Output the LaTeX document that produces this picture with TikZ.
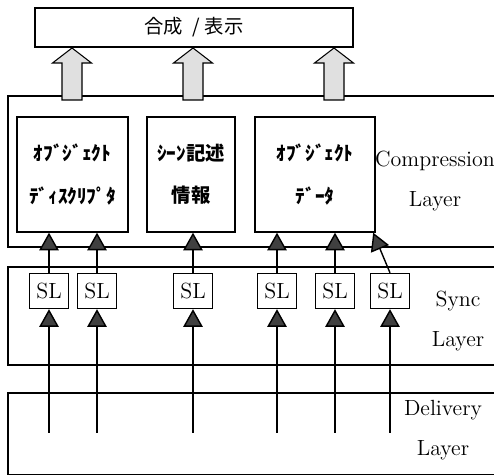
\documentclass[tikz,border=0pt]{standalone}
\usepackage{fontspec}
\newfontfamily\jpfont{Noto Sans CJK JP}
\usetikzlibrary{arrows.meta}

\begin{document}
\begin{tikzpicture}[x=0.02cm, y=-0.02cm,
    line width=0.8pt,
    box/.style={draw, inner sep=0pt, align=center},
    jptext/.style={font=\jpfont\bfseries\fontsize{11}{24}\selectfont},
    slbox/.style={box, minimum width=0.78cm, minimum height=0.7cm,
                  font=\fontsize{12.5}{14}\selectfont},
    layertext/.style={align=center, inner sep=0pt,
                      font=\fontsize{12.5}{23}\selectfont},
    upstream/.style={-{Triangle[width=11pt,length=10pt,fill=black!75]}},
    blockarrow/.style={draw, line width=0.6pt, fill=black!12}]
  \useasboundingbox (0,0) rectangle (494,476);
  \clip (0,0) rectangle (494,476);

  % layers
  \draw (8,96) rectangle (520,247);
  \draw (8,267) rectangle (520,365);
  \draw (8,393) rectangle (520,474.5);

  \node[box, font=\jpfont\fontsize{11}{24}\selectfont, minimum width=6.36cm, minimum height=0.78cm] (disp) at (194,27.5) {合成\hspace{0.5em}/ 表示};

  \node[box, jptext, minimum width=2.22cm, minimum height=2.3cm] (od) at (72.5,174.5) {ｵﾌﾞｼﾞｪｸﾄ\\ﾃﾞｨｽｸﾘﾌﾟﾀ};
  \node[box, jptext, minimum width=1.76cm, minimum height=2.3cm] (sd) at (191,174.5) {ｼｰﾝ記述\\情報};
  \node[box, jptext, minimum width=2.4cm, minimum height=2.3cm] (odata) at (315,174.5) {ｵﾌﾞｼﾞｪｸﾄ\\ﾃﾞｰﾀ};

  % block arrows to the top box
  \foreach \x in {72,193,334}
    \draw[blockarrow] (\x-10,100) -- (\x-10,63) -- (\x-19.5,63) -- (\x,48)
      -- (\x+19.5,63) -- (\x+10,63) -- (\x+10,100) -- cycle;

  \foreach \i/\x in {1/49,2/97,3/193,4/277,5/335,6/390}
    \node[slbox] (sl\i) at (\x,291) {SL};

  \draw[upstream] (sl1) -- (sl1 |- od.south);
  \draw[upstream] (sl2) -- (sl2 |- od.south);
  \draw[upstream] (sl3) -- (sl3 |- sd.south);
  \draw[upstream] (sl4) -- (sl4 |- odata.south);
  \draw[upstream] (sl5) -- (sl5 |- odata.south);
  \draw[upstream] (sl6.north) -- ([xshift=-0.05cm]odata.south east);

  \foreach \i/\x in {1/49,2/97,3/193,4/277,5/335,6/390} {
    \coordinate (d\i) at (\x,433);
    \draw[upstream] (d\i) -- (sl\i);
  }

  \node[layertext] (clabel) at (435,181) {Compression\\Layer};
  \node[layertext] (slabel) at (458,321) {Sync\\Layer};
  \node[layertext] (dlabel) at (443,430) {Delivery\\Layer};
\end{tikzpicture}
\end{document}
